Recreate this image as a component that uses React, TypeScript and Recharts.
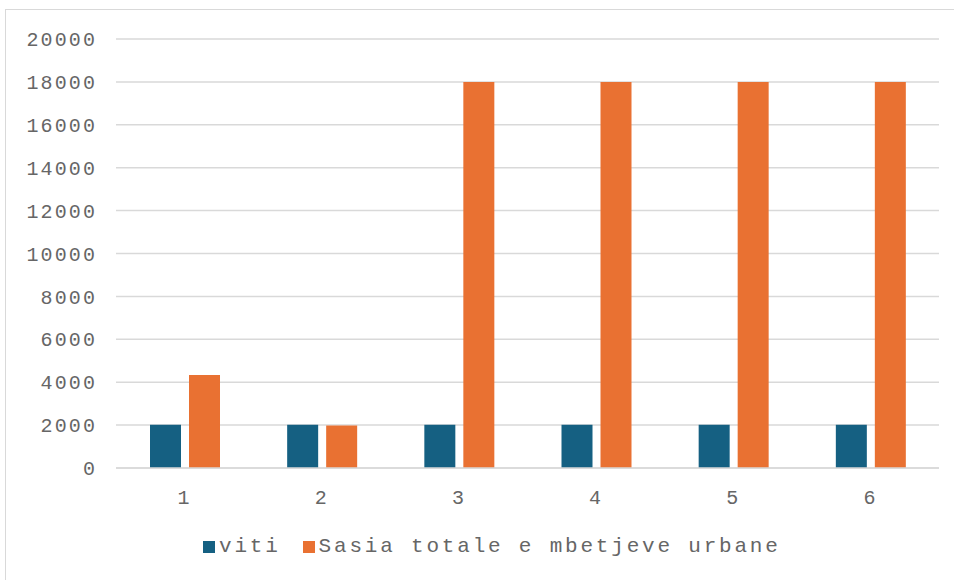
import React from 'react';
import { BarChart, Bar, XAxis, YAxis, CartesianGrid, Legend } from 'recharts';

const categories = ['1', '2', '3', '4', '5', '6'];
const vitiValues = [2015, 2016, 2017, 2018, 2019, 2020];
const sasiaValues = [4330, 1980, 18000, 18000, 18000, 18000];
const yTicks = [0, 2000, 4000, 6000, 8000, 10000, 12000, 14000, 16000, 18000, 20000];

const BLUE = '#156082';
const ORANGE = '#E97132';
const TEXT = '#666666';
const FONT = '"Liberation Mono", "DejaVu Sans Mono", monospace';

const data = categories.map((c, i) => ({ name: c, viti: vitiValues[i], sasia: sasiaValues[i] }));

const legendItems = [
  { label: 'viti', color: BLUE },
  { label: 'Sasia totale e mbetjeve urbane', color: ORANGE },
];

function LegendContent() {
  return (
    <div style={{ display: 'flex', paddingLeft: 203, fontFamily: FONT, fontSize: 21, color: TEXT, letterSpacing: 2.8 }}>
      {legendItems.map((it) => (
        <div key={it.label} style={{ display: 'flex', alignItems: 'center', marginRight: 22 }}>
          <span style={{ display: 'inline-block', width: 12, height: 12, background: it.color, marginRight: 4 }} />
          <span>{it.label}</span>
        </div>
      ))}
    </div>
  );
}

export default function App() {
  return (
    <div style={{ position: 'absolute', left: 0, top: 0, width: 954, height: 580, background: '#fff', overflow: 'hidden' }}>
      <div style={{ position: 'absolute', left: 5, top: 9, width: 960, height: 590, border: '1px solid #D9D9D9', boxSizing: 'border-box' }} />
      <BarChart
        width={954}
        height={580}
        data={data}
        margin={{ top: 39, right: 15, left: 0, bottom: 82 }}
        barSize={31}
        barGap={8}
        style={{ fontFamily: FONT }}
      >
        <CartesianGrid vertical={false} stroke="#D9D9D9" strokeWidth={1.5} />
        <XAxis
          dataKey="name"
          height={30}
          tickLine={false}
          axisLine={{ stroke: '#D9D9D9', strokeWidth: 1.5 }}
          tick={{ fill: TEXT, fontSize: 20, letterSpacing: 2 }}
          tickMargin={16}
        />
        <YAxis
          width={116}
          domain={[0, 20000]}
          ticks={yTicks}
          interval={0}
          tickLine={false}
          axisLine={false}
          tick={{ fill: TEXT, fontSize: 20, letterSpacing: 2.1 }}
          tickMargin={13}
        />
        <Legend verticalAlign="middle" align="center" layout="horizontal" content={<LegendContent />} wrapperStyle={{ top: 535, left: 0, width: 954 }} />
        <Bar dataKey="viti" name="viti" fill={BLUE} isAnimationActive={false} />
        <Bar dataKey="sasia" name="Sasia totale e mbetjeve urbane" fill={ORANGE} isAnimationActive={false} />
      </BarChart>
    </div>
  );
}
